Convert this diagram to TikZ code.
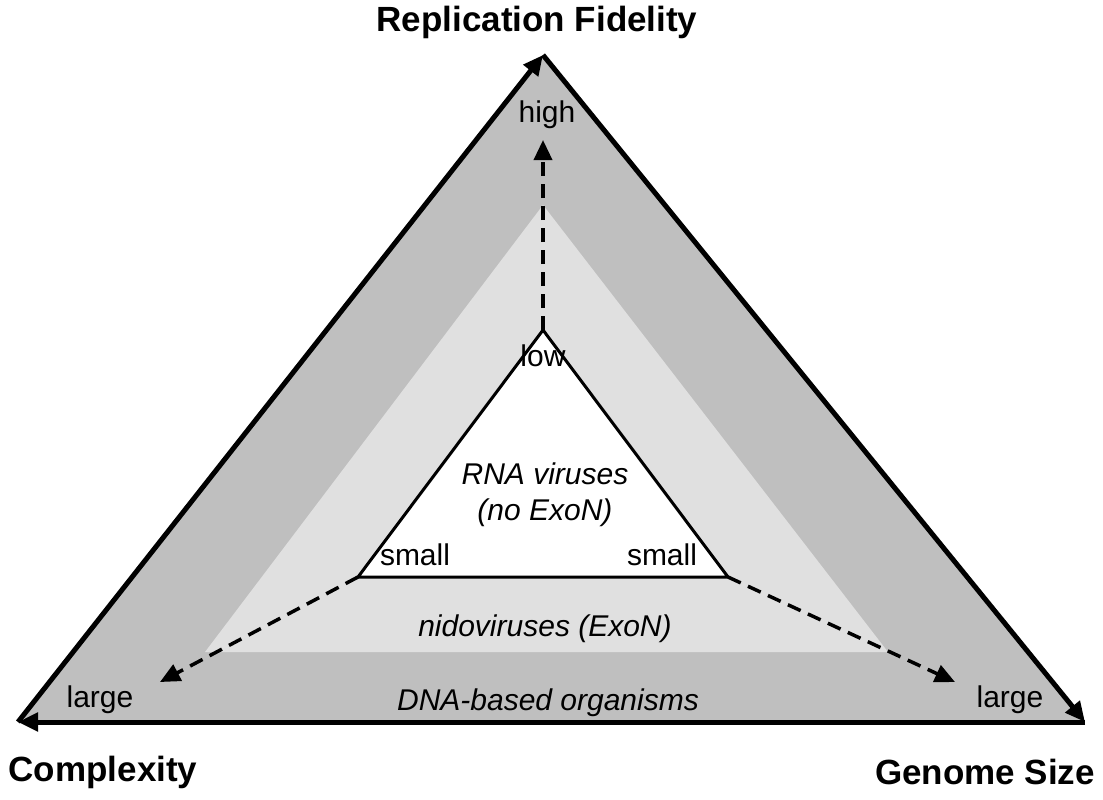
\documentclass[tikz,border=0pt]{standalone}
\usepackage{fontspec}
\setmainfont{Liberation Sans}
\usetikzlibrary{arrows.meta, positioning}
\definecolor{darkband}{gray}{0.75}
\definecolor{lightband}{gray}{0.88}
\tikzstyle{axis} = [line width=5pt, -{Triangle[length=20pt, width=18pt]}]
\tikzstyle{ray} = [line width=3.5pt, dash pattern=on 14pt off 8pt, -{Triangle[length=20pt, width=18pt]}]
\tikzstyle{title} = [font=\fontsize{35}{40}\selectfont\bfseries]
\tikzstyle{tag} = [font=\fontsize{30}{34}\selectfont]
\tikzstyle{group} = [font=\fontsize{30}{36}\selectfont\itshape, align=center]

\begin{document}
\begin{tikzpicture}[x=1pt, y=-1pt]
    \useasboundingbox (0,0) rectangle (1103,800);
    % corners
    \coordinate (outer-top) at (543,55);
    \coordinate (outer-left) at (18,722);
    \coordinate (outer-right) at (1085,722);
    \coordinate (mid-top) at (543,205);
    \coordinate (mid-left) at (205,652);
    \coordinate (mid-right) at (888,652);
    \coordinate (inner-top) at (543,330);
    \coordinate (inner-left) at (358,577);
    \coordinate (inner-right) at (728,577);
    \coordinate (high-end) at (543,140);
    \coordinate (left-end) at (160,682);
    \coordinate (right-end) at (955,682);

    % bands
    \fill [darkband] (outer-top) -- (outer-right) -- (outer-left) -- cycle;
    \fill [lightband] (mid-top) -- (mid-right) -- (mid-left) -- cycle;
    \draw [line width=3pt, line join=miter, fill=white] (inner-top) -- (inner-right) -- (inner-left) -- cycle;

    % axes
    \draw [axis] (outer-left) -- (outer-top);
    \draw [axis] (outer-top) -- (outer-right);
    \draw [axis] (outer-right) -- (outer-left);
    \draw [ray] (inner-top) -- (high-end);
    \draw [ray] (inner-left) -- (left-end);
    \draw [ray] (inner-right) -- (right-end);

    % labels
    \node (fidelity) [title] at (537,22) {Replication Fidelity};
    \node (complexity) [title] at (103,772) {Complexity};
    \node (genome-size) [title] at (985,772) {Genome Size};
    \node (high) [tag] at (547,115) {high};
    \node (low) [tag] at (543,356) {low};
    \node (small-left) [tag] at (415,555) {small};
    \node (small-right) [tag] at (662,555) {small};
    \node (large-left) [tag] at (100,700) {large};
    \node (large-right) [tag] at (1010,700) {large};
    \node (rna) [group] at (545,495) {RNA viruses\\(no ExoN)};
    \node (nido) [group] at (545,629) {nidoviruses (ExoN)};
    \node (dna) [group] at (548,703) {DNA-based organisms};
\end{tikzpicture}
\end{document}
